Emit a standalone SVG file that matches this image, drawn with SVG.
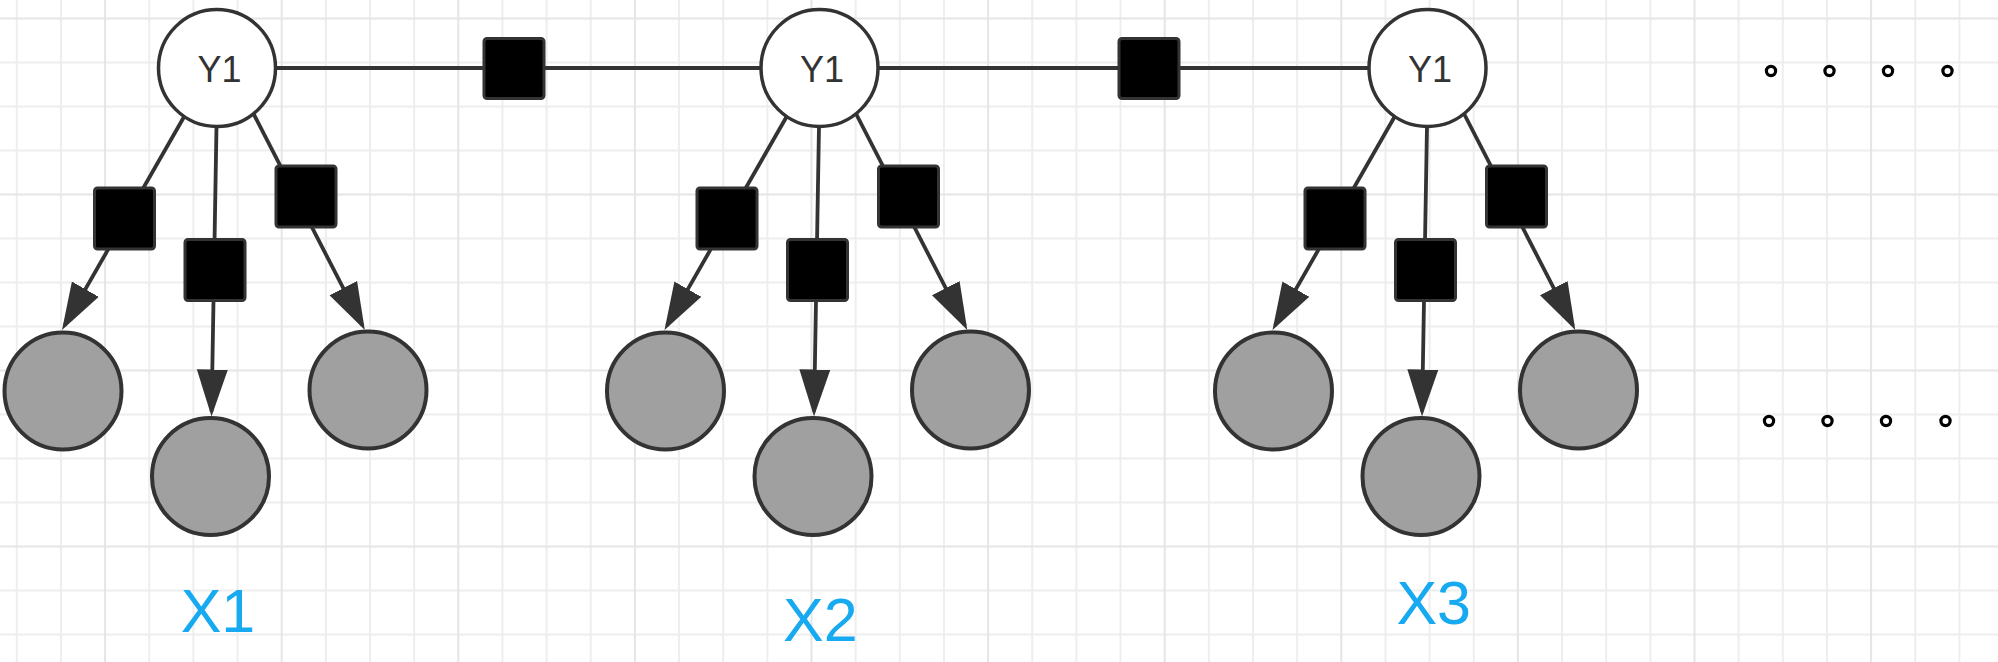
<svg xmlns="http://www.w3.org/2000/svg" width="1998" height="662" viewBox="0 0 1998 662">
<style>
.minor{stroke:#eeeeee;stroke-width:2;fill:none}
.major{stroke:#e5e5e5;stroke-width:2;fill:none}
.edge{stroke:#333333;stroke-width:3.8;fill:none}
.y{fill:#ffffff;stroke:#333333;stroke-width:3.5}
.x{fill:#a0a0a0;stroke:#333333;stroke-width:4}
.f{fill:#000000;stroke:#333333;stroke-width:3}
.yt{font-family:"Liberation Sans",Arial,sans-serif;font-size:36px;fill:#333333;text-anchor:middle}
.xt{font-family:"Liberation Sans",Arial,sans-serif;font-size:61px;fill:#18aaf0;text-anchor:middle}
.dot{fill:#ffffff;stroke:#000000;stroke-width:3.2}
</style>
<defs>
<marker id="arr" markerUnits="userSpaceOnUse" markerWidth="48" markerHeight="33" viewBox="0 0 48 33" refX="42" refY="16.5" orient="auto">
<path d="M0,1 L47,16.5 L0,32 Z" fill="#333333"/>
</marker>
</defs>
<rect width="1998" height="662" fill="#ffffff"/>
<g id="grid">
<path class="minor" d="M16.8,0V662M60.95,0V662M149.25,0V662M193.4,0V662M237.55,0V662M325.85,0V662M370,0V662M414.15,0V662M502.45,0V662M546.6,0V662M590.75,0V662M679.05,0V662M723.2,0V662M767.35,0V662M855.65,0V662M899.8,0V662M943.95,0V662M1032.25,0V662M1076.4,0V662M1120.55,0V662M1208.85,0V662M1253,0V662M1297.15,0V662M1385.45,0V662M1429.6,0V662M1473.75,0V662M1562.05,0V662M1606.2,0V662M1650.35,0V662M1738.65,0V662M1782.8,0V662M1826.95,0V662M1915.25,0V662M1959.4,0V662M0,62.5H1998M0,106.5H1998M0,150.5H1998M0,238.5H1998M0,282.5H1998M0,326.5H1998M0,414.5H1998M0,458.5H1998M0,502.5H1998M0,590.5H1998M0,634.5H1998"/>
<path class="major" d="M105.1,0V662M281.7,0V662M458.3,0V662M634.9,0V662M811.5,0V662M988.1,0V662M1164.7,0V662M1341.3,0V662M1517.9,0V662M1694.5,0V662M1871.1,0V662M0,18.5H1998M0,194.5H1998M0,370.5H1998M0,546.5H1998"/>
</g>
<g id="connectors">
<path class="edge" d="M217,68 L1427.5,68"/>
<path class="edge" d="M212,68 L64.5,325.6" marker-end="url(#arr)"/>
<path class="edge" d="M230,68 L362.5,325.5" marker-end="url(#arr)"/>
<path class="edge" d="M217.5,68 L211.6,411.5" marker-end="url(#arr)"/>
<path class="edge" d="M814.5,68 L667,325.6" marker-end="url(#arr)"/>
<path class="edge" d="M832.5,68 L965,325.5" marker-end="url(#arr)"/>
<path class="edge" d="M820,68 L814.1,411.5" marker-end="url(#arr)"/>
<path class="edge" d="M1422.5,68 L1275,325.6" marker-end="url(#arr)"/>
<path class="edge" d="M1440.5,68 L1573,325.5" marker-end="url(#arr)"/>
<path class="edge" d="M1428,68 L1422.1,411.5" marker-end="url(#arr)"/>
</g>
<g id="f12"><rect class="f" x="484" y="38.5" width="60" height="60" rx="3"/></g>
<g id="f23"><rect class="f" x="1119" y="38.5" width="60" height="60" rx="3"/></g>
<g id="y1a"><circle class="y" cx="217" cy="68" r="58.5"/><text class="yt" x="219.5" y="82">Y1</text></g>
<g id="y1b"><circle class="y" cx="819.5" cy="68" r="58.5"/><text class="yt" x="822" y="82">Y1</text></g>
<g id="y1c"><circle class="y" cx="1427.5" cy="68" r="58.5"/><text class="yt" x="1430" y="82">Y1</text></g>
<g id="f1l"><rect class="f" x="94.5" y="188" width="60" height="61" rx="3"/></g>
<g id="f1m"><rect class="f" x="185" y="239.5" width="60" height="61" rx="3"/></g>
<g id="f1r"><rect class="f" x="276" y="166" width="60" height="61" rx="3"/></g>
<g id="f2l"><rect class="f" x="697" y="188" width="60" height="61" rx="3"/></g>
<g id="f2m"><rect class="f" x="787.5" y="239.5" width="60" height="61" rx="3"/></g>
<g id="f2r"><rect class="f" x="878.5" y="166" width="60" height="61" rx="3"/></g>
<g id="f3l"><rect class="f" x="1305" y="188" width="60" height="61" rx="3"/></g>
<g id="f3m"><rect class="f" x="1395.5" y="239.5" width="60" height="61" rx="3"/></g>
<g id="f3r"><rect class="f" x="1486.5" y="166" width="60" height="61" rx="3"/></g>
<g id="x1l"><circle class="x" cx="63" cy="391" r="58.5"/></g>
<g id="x1m"><circle class="x" cx="210.5" cy="476.5" r="58.5"/></g>
<g id="x1r"><circle class="x" cx="368" cy="390" r="58.5"/></g>
<g id="x2l"><circle class="x" cx="665.5" cy="391" r="58.5"/></g>
<g id="x2m"><circle class="x" cx="813" cy="476.5" r="58.5"/></g>
<g id="x2r"><circle class="x" cx="970.5" cy="390" r="58.5"/></g>
<g id="x3l"><circle class="x" cx="1273.5" cy="391" r="58.5"/></g>
<g id="x3m"><circle class="x" cx="1421" cy="476.5" r="58.5"/></g>
<g id="x3r"><circle class="x" cx="1578.5" cy="390" r="58.5"/></g>
<g id="labels">
<text class="xt" x="218" y="632">X1</text>
<text class="xt" x="820.3" y="641">X2</text>
<text class="xt" x="1433.7" y="623.6">X3</text>
</g>
<g id="ellipsis-top">
<circle class="dot" cx="1771" cy="71" r="4.6"/>
<circle class="dot" cx="1829.5" cy="71" r="4.6"/>
<circle class="dot" cx="1888" cy="71" r="4.6"/>
<circle class="dot" cx="1947.5" cy="71" r="4.6"/>
</g>
<g id="ellipsis-bottom">
<circle class="dot" cx="1769" cy="421" r="4.6"/>
<circle class="dot" cx="1827.5" cy="421" r="4.6"/>
<circle class="dot" cx="1886" cy="421" r="4.6"/>
<circle class="dot" cx="1945.5" cy="421" r="4.6"/>
</g>
</svg>
